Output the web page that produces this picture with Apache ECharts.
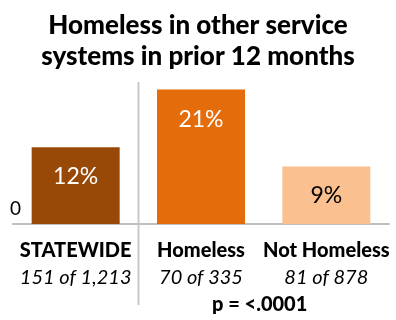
<!DOCTYPE html>
<html>
<head>
<meta charset="utf-8">
<script src="https://cdn.jsdelivr.net/npm/echarts@6/dist/echarts.min.js"></script>
<style>html,body{margin:0;padding:0;background:#fff}#c{width:396px;height:320px}</style>
</head>
<body>
<div id="c"></div>
<script>
var titleText = "Homeless in other service\nsystems in prior 12 months";
var categories = ["STATEWIDE", "Homeless", "Not Homeless"];
var counts = ["151 of 1,213", "70 of 335", "81 of 878"];
var values = [12, 21, 9];
var barColors = ["#984807", "#E46C0A", "#FAC090"];
var labelColors = ["#ffffff", "#ffffff", "#000000"];
var pText = "p = <.0001";

var FONT = "Lato";
var chart = echarts.init(document.getElementById('c'), null, {renderer: 'canvas'});
var option = {
  animation: false,
  textStyle: {fontFamily: FONT},
  title: {
    text: titleText, left: 'center', top: 5,
    textStyle: {fontFamily: FONT, fontSize: 26, fontWeight: 900, color: '#000', lineHeight: 31}
  },
  grid: {left: 13, right: 7, top: 64, bottom: 96},
  xAxis: {
    type: 'category', data: categories,
    axisLine: {lineStyle: {color: '#BFBFBF', width: 2}},
    axisTick: {show: false},
    axisLabel: {
      interval: 0, margin: 13,
      formatter: function (v, i) { return '{b|' + v + '}\n{i|' + counts[i] + '}'; },
      rich: {
        b: {fontFamily: FONT, fontSize: 20, fontWeight: 900, color: '#000', lineHeight: 27},
        i: {fontFamily: FONT, fontSize: 20, fontStyle: 'italic', color: '#000', lineHeight: 27}
      }
    }
  },
  yAxis: {
    type: 'value', min: 0, max: 25,
    splitLine: {show: false}, axisLine: {show: false}, axisTick: {show: false},
    axisLabel: {
      margin: -8,
      formatter: function (v) { return v === 0 ? '0' : ''; },
      fontFamily: FONT, fontSize: 19, color: '#000', verticalAlign: 'bottom', padding: [0, 0, 6, 0]
    }
  },
  series: [{
    type: 'bar', barWidth: 88,
    data: values.map(function (v, i) {
      return {value: v, itemStyle: {color: barColors[i]},
        label: {color: labelColors[i]}};
    }),
    label: {
      show: true, position: 'insideTop', distance: 18,
      formatter: '{c}%', fontFamily: FONT, fontSize: 23
    }
  }]
};
chart.setOption(option);

function addGraphics() {
  var p0 = chart.convertToPixel({xAxisIndex: 0}, categories[0]);
  var p1 = chart.convertToPixel({xAxisIndex: 0}, categories[1]);
  var p2 = chart.convertToPixel({xAxisIndex: 0}, categories[2]);
  var sepX = Math.round((p0 + p1) / 2) + 0.5;
  chart.setOption({
    graphic: [
      {type: 'line', shape: {x1: sepX, y1: 82, x2: sepX, y2: 305}, style: {stroke: '#C8C8C8', lineWidth: 2}, z: 10},
      {type: 'text', x: (p1 + p2) / 2 - 4, y: 305, style: {text: pText, fontFamily: FONT, fontSize: 20, fontWeight: 900, fill: '#000', textAlign: 'center', textVerticalAlign: 'middle'}}
    ]
  });
}
addGraphics();
</script>
</body>
</html>
